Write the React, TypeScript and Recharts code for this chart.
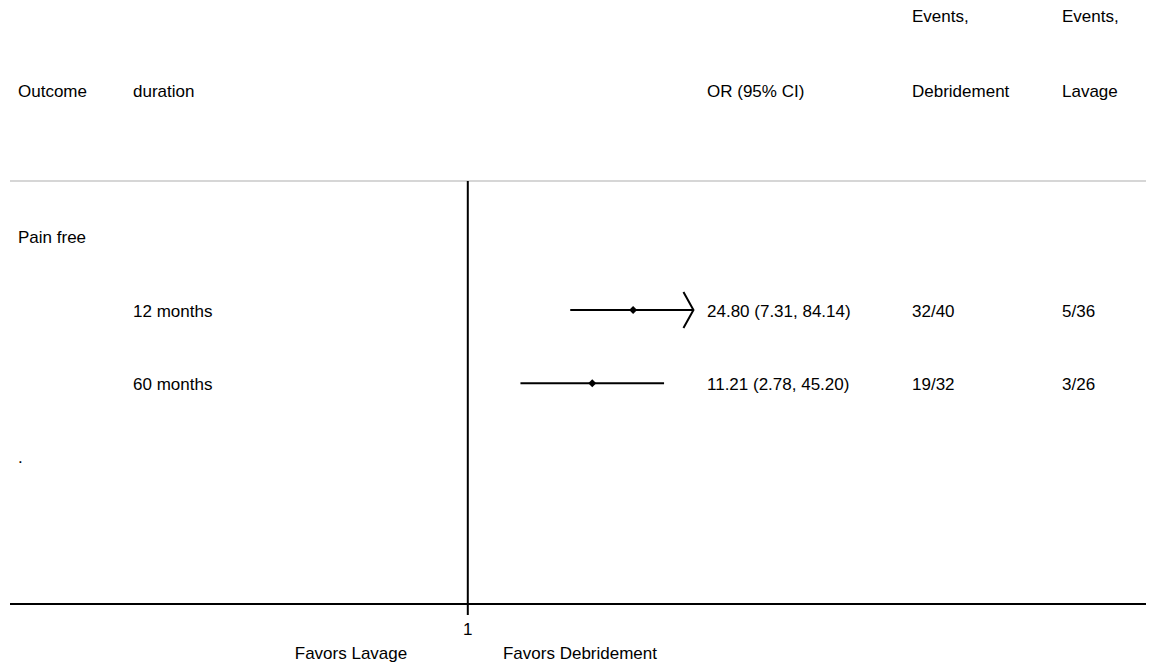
import React from "react";
import { ComposedChart, ReferenceLine, Scatter, XAxis, YAxis } from "recharts";

// one entry per forest-plot row, top to bottom
const outcomes = ["Pain free", "", "", "."];
const durations = ["", "12 months", "60 months", ""];
const oddsRatios: (number | null)[] = [null, 24.8, 11.21, null];
const ciLower: (number | null)[] = [null, 7.31, 2.78, null];
const ciUpper: (number | null)[] = [null, 84.14, 45.2, null];
const eventsDebridement = ["", "32/40", "19/32", ""];
const eventsLavage = ["", "5/36", "3/26", ""];

const headerTop = ["", "", "", "Events,", "Events,"];
const headerBottom = ["Outcome", "duration", "OR (95% CI)", "Debridement", "Lavage"];
const favorsLabels = ["Favors Lavage", "Favors Debridement"];

const W = 1156;
const H = 666;
const FONT = "'Liberation Sans', Arial, Helvetica, sans-serif";
const FS = 17;
const COLS = [18, 133, 707, 912, 1062];

// x axis is ln(OR); CIs past the clip value get an arrow
const X_DOMAIN: [number, number] = [-8.89, 13.17];
const CLIP_OR = 80;
const Y_DOMAIN: [number, number] = [-0.76, 5.01];

const fmt = (v: number) => v.toFixed(2);

const estimates = oddsRatios
  .map((or, i) => {
    if (or == null) return null;
    const lo = Math.log(ciLower[i] as number);
    const hiRaw = Math.log(ciUpper[i] as number);
    const clip = Math.log(CLIP_OR);
    return {
      x: Math.log(or),
      y: i,
      lo,
      hi: Math.min(hiRaw, clip),
      clipped: hiRaw > clip,
    };
  })
  .filter(Boolean) as { x: number; y: number; lo: number; hi: number; clipped: boolean }[];

// text rows, placed vertically by the y scale
const rows = outcomes.map((_, i) => ({ x: 0, y: i, idx: i }));

function RowText(props: any) {
  const { cy, payload } = props;
  const i = payload.idx as number;
  const base = cy + 6.5;
  const orText =
    oddsRatios[i] != null
      ? `${fmt(oddsRatios[i] as number)} (${fmt(ciLower[i] as number)}, ${fmt(ciUpper[i] as number)})`
      : "";
  const cells = [outcomes[i], durations[i], orText, eventsDebridement[i], eventsLavage[i]];
  return (
    <g>
      {cells.map((c, k) =>
        c ? (
          <text key={k} x={COLS[k]} y={base} fill="#000" fontFamily={FONT} fontSize={FS} textAnchor="start">
            {c}
          </text>
        ) : null
      )}
    </g>
  );
}

function Diamond(props: any) {
  const { cx, cy } = props;
  const r = 4;
  return <polygon points={`${cx - r},${cy} ${cx},${cy - r} ${cx + r},${cy} ${cx},${cy + r}`} fill="#000" />;
}

function CiLine(props: any, clipped: boolean) {
  const { x1, y1, x2, y2 } = props;
  return (
    <g>
      <line x1={x1} y1={y1} x2={x2} y2={y2} stroke="#000" strokeWidth={2} />
      {clipped && (
        <polyline
          points={`${x2 - 10},${y2 - 18} ${x2},${y2} ${x2 - 10},${y2 + 18}`}
          fill="none"
          stroke="#000"
          strokeWidth={2}
        />
      )}
    </g>
  );
}

export default function App() {
  return (
    <div style={{ position: "absolute", left: 0, top: 0, width: W, height: H, background: "#fff" }}>
      <ComposedChart width={W} height={H} margin={{ top: 181, right: 10, bottom: 0, left: 10 }}>
        <XAxis
          type="number"
          dataKey="x"
          domain={X_DOMAIN}
          allowDataOverflow
          ticks={[0]}
          interval={0}
          tickFormatter={() => "1"}
          height={62}
          tickSize={11}
          tickMargin={8}
          axisLine={{ stroke: "#000", strokeWidth: 2 }}
          tickLine={{ stroke: "#000", strokeWidth: 2 }}
          tick={{ fill: "#000", fontSize: FS, fontFamily: FONT }}
        />
        <YAxis type="number" dataKey="y" domain={Y_DOMAIN} allowDataOverflow reversed width={0} hide />
        <ReferenceLine y={Y_DOMAIN[0]} stroke="#c8c8c8" strokeWidth={1.5} />
        <ReferenceLine x={0} stroke="#000" strokeWidth={2} />
        {estimates.map((e, i) => (
          <ReferenceLine
            key={i}
            segment={[
              { x: e.lo, y: e.y },
              { x: e.hi, y: e.y },
            ]}
            shape={(p: any) => CiLine(p, e.clipped)}
          />
        ))}
        <Scatter data={estimates} dataKey="y" shape={<Diamond />} isAnimationActive={false} />
        <Scatter data={rows} dataKey="y" shape={<RowText />} isAnimationActive={false} />
      </ComposedChart>
      <svg
        width={W}
        height={H}
        style={{ position: "absolute", left: 0, top: 0, pointerEvents: "none" }}
        fontFamily={FONT}
        fontSize={FS}
        fill="#000"
      >
        {headerTop.map((t, k) =>
          t ? (
            <text key={"t" + k} x={COLS[k]} y={22}>
              {t}
            </text>
          ) : null
        )}
        {headerBottom.map((t, k) => (
          <text key={"b" + k} x={COLS[k]} y={97}>
            {t}
          </text>
        ))}
        <text x={351} y={659} textAnchor="middle">
          {favorsLabels[0]}
        </text>
        <text x={580} y={659} textAnchor="middle">
          {favorsLabels[1]}
        </text>
      </svg>
    </div>
  );
}
